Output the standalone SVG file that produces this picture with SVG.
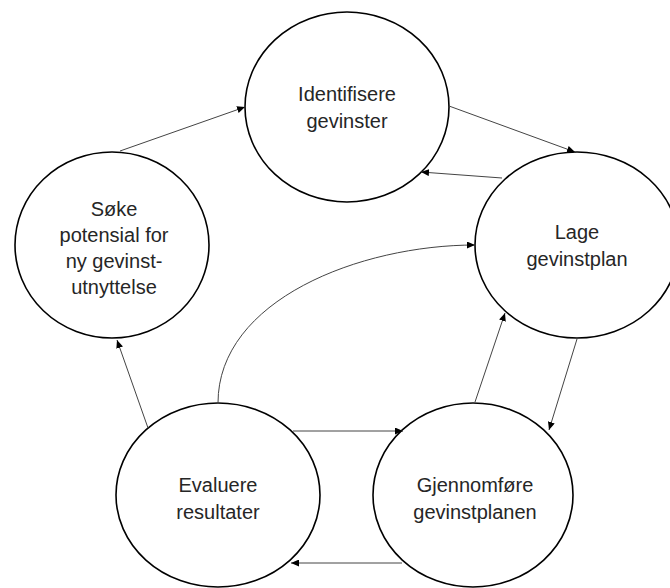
<svg xmlns="http://www.w3.org/2000/svg" width="670" height="588" viewBox="0 0 670 588">
<defs>
<marker id="ah" markerWidth="8" markerHeight="7" refX="8" refY="3.5" orient="auto" markerUnits="userSpaceOnUse">
<path d="M0,0 L8,3.5 L0,7 z" fill="#000"/>
</marker>
<style>
.node ellipse{fill:#fff;stroke:#000;stroke-width:1.6}
.node text{font-family:"Liberation Sans",Arial,sans-serif;font-size:20px;fill:#262626;text-anchor:middle}
.conn path,.conn line{fill:none;stroke:#444;stroke-width:1;marker-end:url(#ah)}
</style>
</defs>
<rect width="670" height="588" fill="#fff"/>
<g id="n-identifisere" class="node">
<ellipse cx="347" cy="107" rx="102" ry="95"/>
<text x="347" y="101">Identifisere</text>
<text x="347" y="128">gevinster</text>
</g>
<g id="n-lage" class="node">
<ellipse cx="577" cy="245" rx="102" ry="93"/>
<text x="577" y="239">Lage</text>
<text x="577" y="266">gevinstplan</text>
</g>
<g id="n-soke" class="node">
<ellipse cx="112" cy="245" rx="97" ry="93"/>
<text x="114" y="216">Søke</text>
<text x="114" y="242">potensial for</text>
<text x="114" y="268">ny gevinst-</text>
<text x="114" y="294">utnyttelse</text>
</g>
<g id="n-evaluere" class="node">
<ellipse cx="218" cy="495" rx="102" ry="92"/>
<text x="218" y="492">Evaluere</text>
<text x="218" y="519">resultater</text>
</g>
<g id="n-gjennomfore" class="node">
<ellipse cx="473" cy="495" rx="100" ry="92"/>
<text x="475" y="492">Gjennomføre</text>
<text x="475" y="519">gevinstplanen</text>
</g>
<g id="connectors" class="conn">
<line x1="120" y1="151" x2="245" y2="107"/>
<line x1="449" y1="106" x2="575" y2="152"/>
<line x1="502" y1="178" x2="421" y2="172"/>
<line x1="577" y1="339" x2="549" y2="430"/>
<line x1="475" y1="402" x2="505" y2="313"/>
<line x1="293" y1="431" x2="403" y2="431"/>
<line x1="402" y1="563" x2="291" y2="563"/>
<line x1="148" y1="428" x2="117" y2="340"/>
<path d="M218,403 C218,300 360,245 475,245"/>
</g>
</svg>
